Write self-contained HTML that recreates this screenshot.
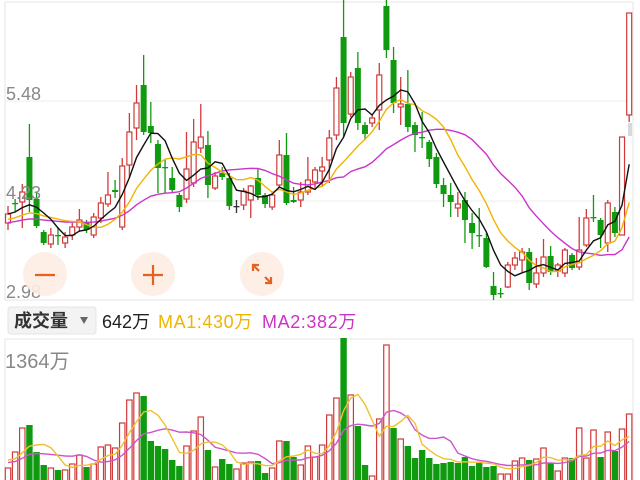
<!DOCTYPE html>
<html><head><meta charset="utf-8"><style>
html,body{margin:0;padding:0;background:#fff;width:640px;height:480px;overflow:hidden;font-family:"Liberation Sans","Noto Sans CJK SC",sans-serif}
svg{position:absolute;left:0;top:0}
</style></head><body>
<svg id="s" width="640" height="480" xmlns="http://www.w3.org/2000/svg">
<rect x="5" y="2" width="628" height="298" fill="none" stroke="#e6e6e6" stroke-width="1"/>
<line x1="5" y1="101" x2="633" y2="101" stroke="#eeeeee"/>
<line x1="5" y1="201" x2="633" y2="201" stroke="#eeeeee"/>
<rect x="5" y="339" width="628" height="145" fill="none" stroke="#e6e6e6" stroke-width="1"/>
<g id="c"></g>
<text x="6" y="100" font-size="18" fill="#888">5.48</text>
<text x="6" y="199" font-size="18" fill="#888">4.23</text>
<text x="6" y="298" font-size="18" fill="#888">2.98</text>
<circle cx="45" cy="274" r="22" fill="#fdece3" opacity="0.9"/>
<circle cx="153" cy="274" r="22" fill="#fdece3" opacity="0.9"/>
<circle cx="262" cy="274" r="22" fill="#fdece3" opacity="0.9"/>
<line x1="35" y1="275" x2="55" y2="275" stroke="#e8601c" stroke-width="2.2"/>
<line x1="143" y1="275" x2="163" y2="275" stroke="#e8601c" stroke-width="2.2"/>
<line x1="153" y1="265" x2="153" y2="285" stroke="#e8601c" stroke-width="2.2"/>
<g stroke="#e8601c" stroke-width="2.2" fill="none">
<line x1="253" y1="265" x2="259" y2="271"/><polyline points="253,271 253,265 259,265"/>
<line x1="265" y1="277" x2="271" y2="283"/><polyline points="265,283 271,283 271,277"/>
</g>
<rect x="628" y="123" width="4" height="13" fill="#d8d8d8"/>
<rect x="8" y="307" width="88" height="27" rx="3" fill="#f3f3f3" stroke="#e4e4e4"/>
<text x="14" y="327" font-size="18" fill="#333" font-weight="bold">成交量</text>
<path d="M80 317 L88 317 L84 324 Z" fill="#666"/>
<text x="102" y="328" font-size="18" fill="#222">642万</text>
<text x="158" y="328" font-size="18" fill="#f0b400" letter-spacing="0.6">MA1:430万</text>
<text x="262" y="328" font-size="18" fill="#cc33cc" letter-spacing="0.6">MA2:382万</text>
<text x="5" y="368" font-size="20" fill="#888">1364万</text>
</svg>
<script>
var C=[[214,223,206,230,'R'],[203,204,199,212,'G'],[192,202,184,228,'R'],[157,200,124,212,'G'],[199,226,192,228,'G'],[232,243,230,245,'G'],[235,244,228,248,'R'],[235,236,227,245,'G'],[237,243,232,248,'R'],[227,235,223,240,'R'],[220,227,209,232,'R'],[223,230,220,233,'G'],[217,235,213,238,'R'],[203,218,197,223,'R'],[195,204,172,207,'R'],[190,192,180,198,'G'],[166,227,158,230,'R'],[132,165,113,177,'R'],[103,128,85,140,'R'],[85,132,55,135,'G'],[126,133,102,143,'G'],[144,168,140,193,'G'],[167,168,160,193,'G'],[178,190,167,193,'G'],[195,207,193,212,'G'],[169,199,132,203,'R'],[142,183,119,187,'R'],[137,148,104,153,'R'],[145,185,131,198,'G'],[176,188,172,190,'R'],[173,177,167,180,'G'],[178,206,173,210,'G'],[206,207,200,213,'K'],[191,205,188,210,'R'],[186,200,185,218,'R'],[178,195,168,200,'G'],[195,204,193,208,'G'],[195,207,192,210,'R'],[155,185,140,187,'R'],[155,203,133,205,'G'],[200,202,187,203,'G'],[192,200,182,207,'R'],[180,192,157,195,'R'],[170,182,167,190,'R'],[167,171,157,187,'R'],[138,160,130,183,'R'],[88,135,77,140,'R'],[37,123,0,137,'G'],[77,114,72,117,'R'],[68,123,52,130,'G'],[125,134,122,140,'G'],[118,123,115,127,'R'],[75,110,63,130,'R'],[6,50,0,58,'G'],[60,103,47,113,'G'],[104,107,77,125,'R'],[104,127,70,132,'G'],[125,135,122,152,'G'],[137,138,112,148,'G'],[142,159,140,167,'G'],[157,184,153,188,'G'],[185,194,178,207,'G'],[195,202,183,217,'G'],[204,208,192,217,'R'],[200,220,192,243,'G'],[223,233,213,249,'G'],[235,236,208,247,'G'],[238,267,233,268,'G'],[286,295,272,300,'G'],[293,294,288,298,'G'],[265,287,262,288,'R'],[258,265,252,270,'R'],[252,260,248,272,'R'],[252,283,248,290,'G'],[273,284,258,288,'R'],[257,273,239,277,'R'],[256,272,246,275,'G'],[265,271,263,277,'R'],[250,273,248,277,'R'],[255,268,253,270,'G'],[250,267,217,270,'R'],[218,245,209,247,'R'],[217,218,195,222,'G'],[220,235,218,248,'G'],[203,243,200,252,'R'],[212,233,207,237,'G'],[137,235,137,235,'R'],[13,115,13,122,'R']];
var V=[[468,'R'],[452,'R'],[428,'R'],[425,'G'],[452,'G'],[465,'G'],[468,'R'],[470,'G'],[470,'R'],[464,'R'],[455,'R'],[467,'G'],[464,'R'],[447,'R'],[445,'R'],[448,'R'],[423,'R'],[400,'R'],[393,'R'],[396,'G'],[441,'G'],[446,'G'],[449,'G'],[460,'G'],[466,'G'],[446,'R'],[431,'R'],[417,'R'],[450,'G'],[467,'R'],[459,'G'],[464,'G'],[469,'R'],[463,'R'],[462,'R'],[461,'G'],[473,'G'],[468,'R'],[441,'R'],[441,'G'],[457,'G'],[465,'R'],[446,'R'],[457,'R'],[445,'R'],[415,'R'],[398,'R'],[338,'G'],[395,'R'],[426,'G'],[465,'G'],[476,'R'],[419,'R'],[345,'R'],[428,'G'],[439,'R'],[446,'G'],[458,'G'],[450,'G'],[458,'G'],[464,'G'],[463,'G'],[462,'G'],[463,'G'],[457,'G'],[466,'G'],[463,'G'],[467,'G'],[466,'G'],[474,'R'],[474,'R'],[461,'R'],[458,'R'],[460,'G'],[459,'R'],[448,'R'],[463,'G'],[471,'R'],[458,'R'],[458,'G'],[428,'R'],[458,'R'],[430,'R'],[457,'G'],[432,'R'],[451,'G'],[429,'R'],[414,'R']];
var g=document.getElementById('c'),h='';
function X(i){return 8+i*7.14;}
var RED='#d03a3a',GRN='#109a10';
C.forEach(function(c,i){var x=X(i),t=Math.min(c[0],c[1]),b=Math.max(c[0],c[1]);
 var col=c[4]=='R'?RED:(c[4]=='G'?GRN:'#333');
 h+='<line x1="'+x+'" y1="'+c[2]+'" x2="'+x+'" y2="'+t+'" stroke="'+col+'" stroke-width="1.3"/>';
 h+='<line x1="'+x+'" y1="'+b+'" x2="'+x+'" y2="'+c[3]+'" stroke="'+col+'" stroke-width="1.3"/>';
 var hh=Math.max(b-t,1.3);
 if(c[4]=='R')h+='<rect x="'+(x-2.5)+'" y="'+t+'" width="5" height="'+hh+'" fill="#fff" stroke="'+col+'" stroke-width="1.2"/>';
 else h+='<rect x="'+(x-3)+'" y="'+t+'" width="6" height="'+hh+'" fill="'+col+'"/>';
});
V.forEach(function(v,i){var x=X(i),col=v[1]=='R'?RED:GRN;
 if(v[1]=='R')h+='<rect x="'+(x-2.7)+'" y="'+v[0]+'" width="5.4" height="'+(482-v[0])+'" fill="#fff" stroke="'+col+'" stroke-width="1.2"/>';
 else h+='<rect x="'+(x-3.2)+'" y="'+v[0]+'" width="6.4" height="'+(482-v[0])+'" fill="'+col+'"/>';
});
function ma(arr,n,col,base){var p=[];for(var i=0;i<arr.length;i++){var s=0,k=0;for(var j=Math.max(0,i-n+1);j<=i;j++){s+=arr[j];k++;}
 var val=s/k; if(base!==undefined&&k<n){val=(s+base*(n-k))/n;} p.push(X(i).toFixed(1)+','+val.toFixed(1));}
 h+='<polyline points="'+p.join(' ')+'" fill="none" stroke="'+col+'" stroke-width="1.4"/>';}
var cl=C.map(function(c){return c[4]=='R'?Math.min(c[0],c[1]):Math.max(c[0],c[1]);});
ma(cl,20,'#cc33cc',223);ma(cl,10,'#f0b400',220);ma(cl,5,'#111',214);
var vv=V.map(function(v){return v[0];});
ma(vv,10,'#cc55cc',462);ma(vv,5,'#f0c030',458);
g.innerHTML=h;
</script>
</body></html>
